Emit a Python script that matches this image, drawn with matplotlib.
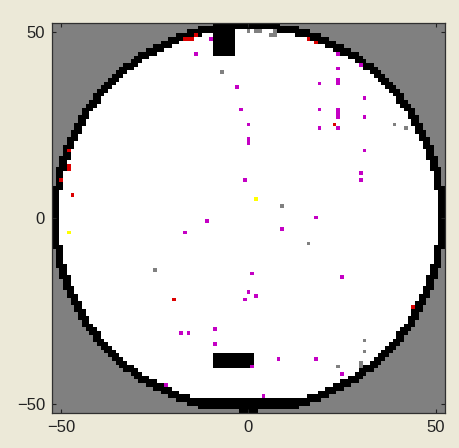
import numpy as np
import matplotlib
matplotlib.use("Agg")
import matplotlib.pyplot as plt
from matplotlib.colors import ListedColormap

# grid coordinates (cell centres)
grid_min, grid_max = -52, 52

# arena ring radii and clipping rows
ring_inner_r = 50.5
ring_outer_r = 52.7
white_row_min, white_row_max = -48, 50
ring_row_min = -51

# black wall blocks: x0, x1, y0, y1 (inclusive cells)
wall_x0 = [-9, -9, -2]
wall_x1 = [-4, 1, 2]
wall_y0 = [44, -40, -52]
wall_y1 = [52, -37, -51]

# coloured cells
magenta_x = [-10, -14, -11, 24, 30, 24, 19, 24, 24, -3, 31, -2, 19, 24, 24, 24, 31, 0, 19, 24,
             0, 0, 31, 30, 30, -1, 18, 9, -17, -18, -16, -9, -9, -22, 1, 25, 0, 2, -1, 8, 18, 1, 25, 4]
magenta_y = [48, 44, -1, 44, 41, 40, 36, 37, 36, 35, 32, 29, 29, 29, 28, 27, 27, 25, 24, 24,
             21, 20, 18, 12, 10, 10, 0, -3, -4, -31, -31, -30, -34, -45, -15, -16, -20, -21, -22, -38, -38, -40, -42, -48]

red_x = [-17, -16, -15, -14, 16, 18, -48, -48, -48, -50, -47, 23, -20, 44]
red_y = [48, 48, 48, 49, 48, 47, 18, 14, 13, 10, 6, 25, -22, -24]

gray_x = [0, 2, 3, 6, 7, 7, -7, 39, 42, 9, 16, -25, 31, 31, 24, 30, 30]
gray_y = [50, 50, 50, 49, 49, 50, 39, 25, 24, 3, -7, -14, -33, -36, -40, -39, -40]

yellow_x = [2, -48]
yellow_y = [5, -4]

# ---- build the label grid ----
coords = np.arange(grid_min, grid_max + 1)
X, Y = np.meshgrid(coords, coords)
R = np.hypot(X, Y)
grid = np.zeros_like(X)                      # 0 = grey outside
disk = (R < ring_outer_r) & (Y >= ring_row_min)
grid[disk] = 1                               # 1 = black ring
white = (R < ring_inner_r) & (Y >= white_row_min) & (Y <= white_row_max)
grid[white] = 2                              # 2 = white floor

def put(xs, ys, val):
    for x, y in zip(xs, ys):
        grid[y - grid_min, x - grid_min] = val

for x0, x1, y0, y1 in zip(wall_x0, wall_x1, wall_y0, wall_y1):
    grid[y0 - grid_min:y1 - grid_min + 1, x0 - grid_min:x1 - grid_min + 1] = 1

put(gray_x, gray_y, 0)
put(magenta_x, magenta_y, 3)
put(red_x, red_y, 4)
put(yellow_x, yellow_y, 5)

cmap = ListedColormap(['#808080', '#000000', '#ffffff', '#c400c4', '#dc0000', '#ffff00'])

fig = plt.figure(figsize=(4.59, 4.48), dpi=100, facecolor='#ece9d8')
ax = fig.add_axes([52/459, 1 - 413/448, (445 - 52)/459, (413 - 23)/448])
ax.imshow(grid, cmap=cmap, vmin=-0.5, vmax=5.5, origin='lower',
          extent=(grid_min - 0.5, grid_max + 0.5, grid_min - 0.5, grid_max + 0.5),
          interpolation='nearest', aspect='auto')
ax.set_xlim(grid_min - 0.5, grid_max + 0.5)
ax.set_ylim(grid_min - 0.5, grid_max + 0.5)
ax.set_xticks([-50, 0, 50])
ax.set_yticks([-50, 0, 50])
ax.tick_params(direction='in', length=3, width=0.8, top=True, right=True,
               labelsize=12, pad=5, colors='#222222')
for lab in ax.get_xticklabels() + ax.get_yticklabels():
    lab.set_family('Liberation Sans')
for s in ax.spines.values():
    s.set_color('#303030')
    s.set_linewidth(0.9)

fig.savefig('out.png', dpi=100, facecolor=fig.get_facecolor())
